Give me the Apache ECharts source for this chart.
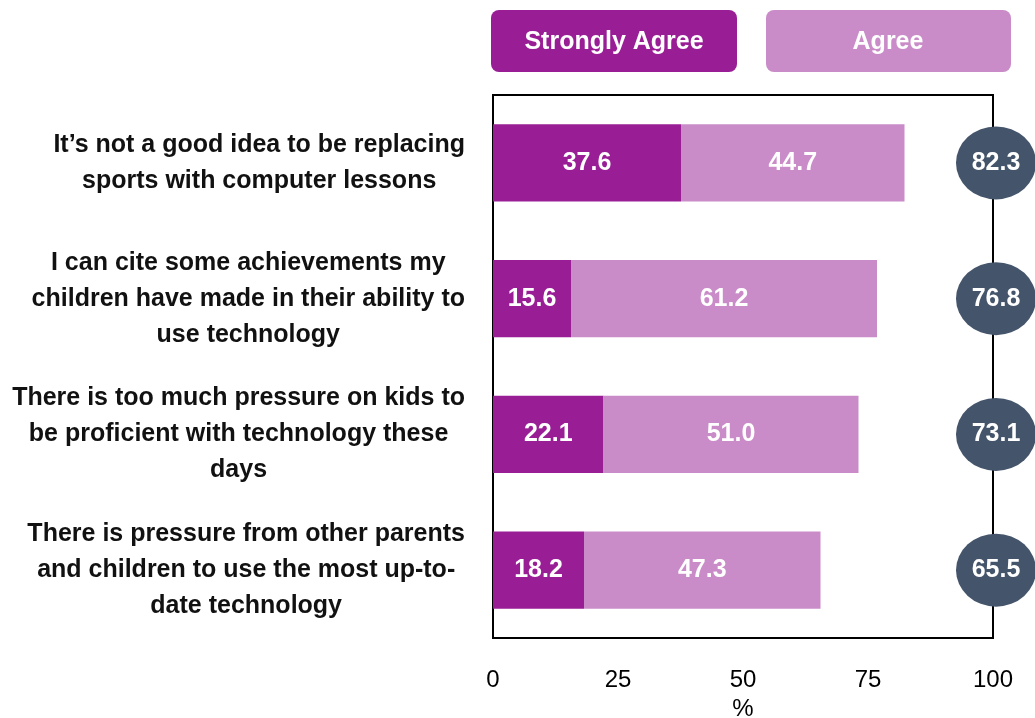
<!DOCTYPE html>
<html>
<head>
<meta charset="utf-8">
<script src="https://cdn.jsdelivr.net/npm/echarts@6/dist/echarts.min.js"></script>
<style>
  html, body { margin: 0; padding: 0; background: #fff; }
  #main { width: 1035px; height: 718px; }
</style>
</head>
<body>
<div id="main"></div>
<script>
var categories = [
    'It’s not a good idea to be replacing\nsports with computer lessons',
    'I can cite some achievements my\nchildren have made in their ability to\nuse technology',
    'There is too much pressure on kids to\nbe proficient with technology these\ndays',
    'There is pressure from other parents\nand children to use the most up-to-\ndate technology'
];
var stronglyAgree = [37.6, 15.6, 22.1, 18.2];
var agree = [44.7, 61.2, 51.0, 47.3];
var totals = [82.3, 76.8, 73.1, 65.5];
var xTicks = [0, 25, 50, 75, 100];

var font = 'Liberation Sans';
var darkPurple = '#991E96';
var lightPurple = '#CA8CC8';
var slate = '#44546A';

var myChart = echarts.init(document.getElementById('main'));

// 总计圆点放在 x=100 处
var totalPoints = [];
for (var i = 0; i < totals.length; i++) {
    totalPoints.push([xTicks[xTicks.length - 1], i, totals[i]]);
}

function barLabel() {
    return {
        show: true,
        position: 'inside',
        color: '#fff',
        fontFamily: font,
        fontWeight: 'bold',
        fontSize: 25,
        formatter: function (p) { return p.value.toFixed(1); }
    };
}

var option = {
    animation: false,
    grid: {
        left: 493, right: 42, top: 95, bottom: 80,
        outerBoundsMode: 'none',
        containLabel: false,
        show: true,
        borderColor: '#000',
        borderWidth: 2,
        backgroundColor: 'transparent'
    },
    xAxis: {
        type: 'value',
        min: 0, max: 100, interval: 25,
        name: '%',
        nameLocation: 'middle',
        nameGap: 58,
        nameTextStyle: { fontFamily: font, fontSize: 24, color: '#000' },
        axisLine: { show: false },
        axisTick: { show: false },
        splitLine: { show: false },
        axisLabel: { margin: 30, fontFamily: font, fontSize: 24, color: '#000' }
    },
    yAxis: {
        type: 'category',
        data: categories,
        inverse: true,
        axisLine: { show: false },
        axisTick: { show: false },
        axisLabel: {
            margin: 28,
            formatter: function (v) { return '{c|' + v + '}'; },
            rich: {
                c: {
                    align: 'center',
                    fontFamily: font,
                    fontWeight: 'bold',
                    fontSize: 25,
                    lineHeight: 36,
                    color: '#111'
                }
            }
        }
    },
    series: [
        {
            name: 'Strongly Agree',
            type: 'bar',
            stack: 'total',
            barWidth: '57%',
            data: stronglyAgree,
            itemStyle: { color: darkPurple },
            label: barLabel()
        },
        {
            name: 'Agree',
            type: 'bar',
            stack: 'total',
            data: agree,
            itemStyle: { color: lightPurple },
            label: barLabel()
        },
        {
            name: 'Total',
            type: 'scatter',
            data: totalPoints,
            symbol: 'circle',
            symbolSize: [80, 73],
            symbolOffset: [3, 0],
            itemStyle: { color: slate, opacity: 1 },
            z: 10,
            label: {
                show: true,
                position: 'inside',
                color: '#fff',
                fontFamily: font,
                fontWeight: 'bold',
                fontSize: 25,
                formatter: function (p) { return p.value[2].toFixed(1); }
            }
        }
    ],
    graphic: [
        {
            type: 'group', left: 491, top: 10,
            children: [
                { type: 'rect', shape: { width: 246, height: 62, r: 8 }, style: { fill: darkPurple } },
                { type: 'text', x: 123, y: 32, style: { text: 'Strongly Agree', fill: '#fff', font: 'bold 25px ' + font, align: 'center', verticalAlign: 'middle' } }
            ]
        },
        {
            type: 'group', left: 766, top: 10,
            children: [
                { type: 'rect', shape: { width: 245, height: 62, r: 8 }, style: { fill: lightPurple } },
                { type: 'text', x: 122, y: 32, style: { text: 'Agree', fill: '#fff', font: 'bold 25px ' + font, align: 'center', verticalAlign: 'middle' } }
            ]
        }
    ]
};

myChart.setOption(option);
</script>
</body>
</html>
